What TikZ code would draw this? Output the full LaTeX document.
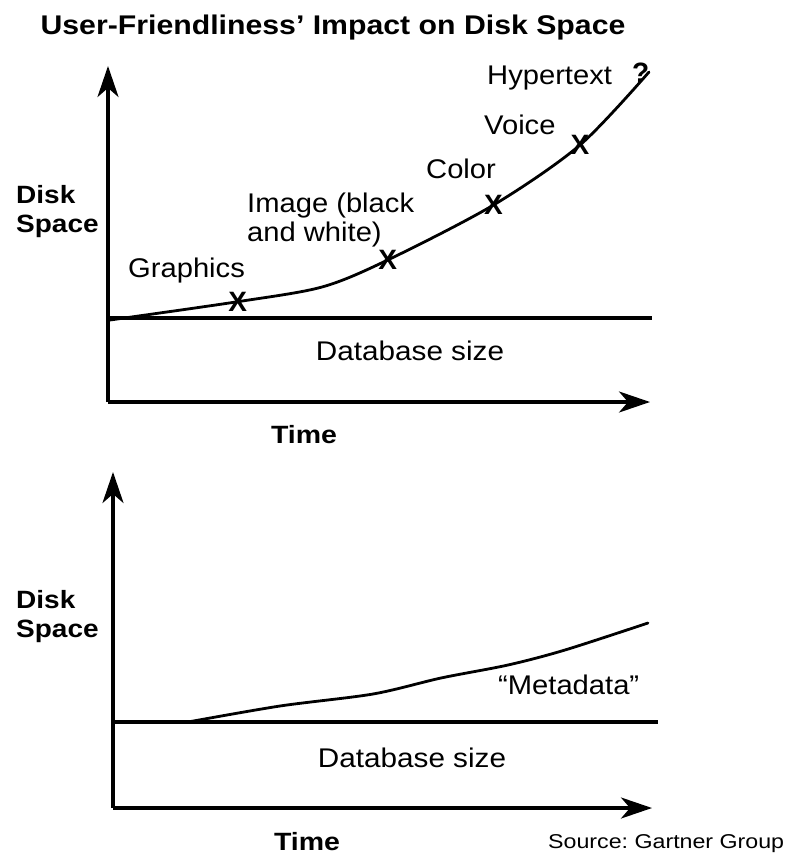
\documentclass[tikz,border=0pt]{standalone}
\usepackage{fontspec}
\setmainfont{Liberation Sans}
\usetikzlibrary{arrows.meta}
\frenchspacing
\newcommand\hstretch[2]{\scalebox{#1}[1]{#2}}
\tikzset{
  axis/.style={line width=3.2pt, -{Stealth[length=31pt, width=21pt, inset=9pt]}},
  dbline/.style={line width=3.2pt},
  growth/.style={line width=2.8pt, line join=round, line cap=round},
  lab/.style={inner sep=0pt, font=\fontsize{27}{30}\selectfont},
  blab/.style={inner sep=0pt, font=\fontsize{25}{29}\selectfont\bfseries},
  xmark/.style={inner sep=0pt, font=\fontsize{28}{30}\selectfont\bfseries},
}
\begin{document}
\begin{tikzpicture}[x=1pt,y=-1pt]
\useasboundingbox (0,0) rectangle (786,855);
% title
\node[inner sep=0pt, anchor=base, font=\fontsize{27}{30}\selectfont\bfseries] (title) at (333,34) {\hstretch{1.12}{User-Friendliness’ Impact on Disk Space}};
% ---- top chart
\coordinate (o1) at (108,402);
\coordinate (y1) at (108,66);
\coordinate (x1) at (650,402);
\coordinate (d1a) at (108,318);
\coordinate (d1b) at (652,318);
\draw[axis] (o1) -- (y1);
\draw[axis] (o1) -- (x1);
\draw[dbline] (d1a) -- (d1b);
\coordinate (c0) at (110,320);
\coordinate (cg) at (237.7,301.7);
\coordinate (ck) at (322,287);
\coordinate (ci) at (387.7,260);
\coordinate (cc) at (493.5,205);
\coordinate (cv) at (580,145);
\coordinate (ch) at (649,72);
\draw[growth] plot[smooth, tension=0.5] coordinates {(c0) (cg) (ck) (ci) (cc) (cv) (ch)};
\node[xmark] (xg) at (cg) {X};
\node[xmark] (xi) at (ci) {X};
\node[xmark] (xc) at (cc) {X};
\node[xmark] (xv) at (cv) {X};
\node[lab, anchor=base west] (hyp) at (487,84) {\hstretch{1.08}{Hypertext}};
\node[blab, anchor=base west, font=\fontsize{28}{29}\selectfont\bfseries] (q) at (632,82) {?};
\node[lab, anchor=base west] (voice) at (484,134) {\hstretch{1.08}{Voice}};
\node[lab, anchor=base west] (color) at (426,178) {\hstretch{1.08}{Color}};
\node[lab, anchor=base west] (img1) at (247,212) {\hstretch{1.08}{Image (black}};
\node[lab, anchor=base west] (img2) at (247,241) {\hstretch{1.08}{and white)}};
\node[lab, anchor=base west] (gfx) at (128,277) {\hstretch{1.08}{Graphics}};
\node[lab, anchor=base] (db1) at (410,360) {\hstretch{1.1}{Database size}};
\node[blab, anchor=base] (t1) at (304,443) {\hstretch{1.14}{Time}};
\node[blab, anchor=base west] (ds1a) at (16,203) {\hstretch{1.12}{Disk}};
\node[blab, anchor=base west] (ds1b) at (16,232) {\hstretch{1.12}{Space}};
% ---- bottom chart
\coordinate (o2) at (113,808);
\coordinate (y2) at (113,472);
\coordinate (x2) at (652,808);
\coordinate (d2a) at (113,722);
\coordinate (d2b) at (658,722);
\draw[axis] (o2) -- (y2);
\draw[axis] (o2) -- (x2);
\draw[dbline] (d2a) -- (d2b);
\coordinate (m0) at (188,722);
\coordinate (m1) at (280,706);
\coordinate (m2) at (373,694);
\coordinate (m3) at (441,678);
\coordinate (m4) at (508,665);
\coordinate (m5) at (565,650);
\coordinate (m6) at (648,623);
\draw[growth] plot[smooth, tension=0.5] coordinates {(m0) (m1) (m2) (m3) (m4) (m5) (m6)};
\node[lab, anchor=base west] (meta) at (498,694) {\hstretch{1.08}{“Metadata”}};
\node[lab, anchor=base] (db2) at (412,767) {\hstretch{1.1}{Database size}};
\node[blab, anchor=base] (t2) at (307,850) {\hstretch{1.14}{Time}};
\node[blab, anchor=base west] (ds2a) at (16,608) {\hstretch{1.12}{Disk}};
\node[blab, anchor=base west] (ds2b) at (16,637) {\hstretch{1.12}{Space}};
\node[inner sep=0pt, anchor=base west, font=\fontsize{20}{24}\selectfont] (src) at (548,848) {\hstretch{1.16}{Source: Gartner Group}};
\end{tikzpicture}
\end{document}
